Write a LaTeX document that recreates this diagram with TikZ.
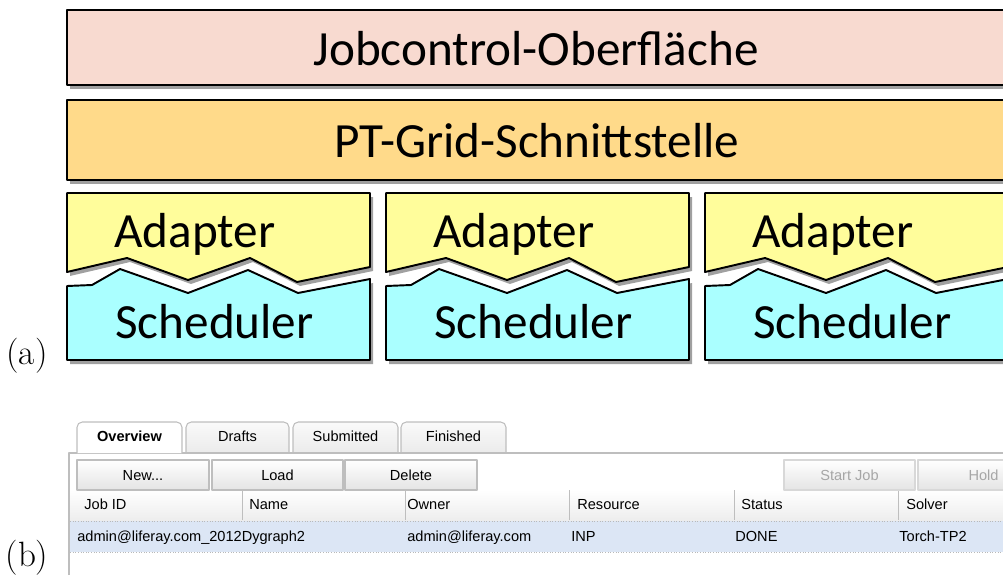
\documentclass[tikz,border=0pt]{standalone}
\usepackage{fontspec}
\newfontfamily\calfont{Carlito}
\newfontfamily\uifont{Liberation Sans}
\usepackage{xcolor}
\usepackage{tikz}
\definecolor{uipink}{RGB}{248,218,208}
\definecolor{gridorange}{RGB}{255,218,138}
\definecolor{adapteryellow}{RGB}{255,253,155}
\definecolor{schedcyan}{RGB}{170,255,255}
\definecolor{shadowgray}{RGB}{160,160,160}
\definecolor{rowblue}{RGB}{220,230,245}
\definecolor{framegray}{RGB}{190,190,190}
\definecolor{btnfill}{RGB}{228,228,228}

\begin{document}
\begin{tikzpicture}[x=0.02cm, y=-0.02cm, line join=round,
  layer/.style={draw=black, line width=1.1pt},
  biglabel/.style={font=\calfont\fontsize{28}{34}\selectfont, anchor=base, inner sep=0pt},
  partlabel/.style={font=\fontsize{20}{24}\selectfont, anchor=base, inner sep=0pt},
  uitext/.style={font=\uifont\fontsize{8.3}{10}\selectfont, anchor=base west, inner sep=0pt},
  uibutton/.style={draw=framegray, line width=0.6pt, top color=white, bottom color=btnfill},
  uitab/.style={draw=framegray, line width=0.6pt, rounded corners=3pt, top color=gray!4, bottom color=gray!16}]
\useasboundingbox (0,0) rectangle (1003,575);
\clip (0,0) rectangle (1003,575);

\fill[shadowgray] (70,14) rectangle (1010,89);
\draw[layer, fill=uipink] (67,10) rectangle (1010,85);
\node[biglabel] (jobcontrol) at (536,65) {Jobcontrol-Oberfläche};

\fill[shadowgray] (70,104) rectangle (1010,184);
\draw[layer, fill=gridorange] (67,100) rectangle (1010,180);
\node[biglabel] (ptgrid) at (537,157) {PT-Grid-Schnittstelle};

\foreach \x [count=\i] in {67,386,705} {
  \begin{scope}[shift={(\x,0)}]
    \fill[shadowgray, shift={(3,4)}] (0,286) -- (25,285) -- (53,269) -- (121,293) -- (181,270) -- (231,293) -- (303,279) -- (303,360) -- (0,360) -- cycle;
    \draw[layer, fill=schedcyan] (0,286) -- (25,285) -- (53,269) -- (121,293) -- (181,270) -- (231,293) -- (303,279) -- (303,360) -- (0,360) -- cycle;
    \fill[shadowgray, shift={(3,4)}] (0,193) -- (303,193) -- (303,267) -- (230,282) -- (183,258) -- (121,280) -- (60,258) -- (0,272) -- cycle;
    \draw[layer, fill=adapteryellow] (0,193) -- (303,193) -- (303,267) -- (230,282) -- (183,258) -- (121,280) -- (60,258) -- (0,272) -- cycle;
    \node[biglabel] (adapter\i) at (128,247) {Adapter};
    \node[biglabel] (sched\i) at (147.5,338) {Scheduler};
  \end{scope}
}

\node[partlabel] (parta) at (27,364) {(a)};
\node[partlabel] (partb) at (27,566) {(b)};

\draw[uitab] (186,453) -- (186,422) -- (289,422) -- (289,453);
\draw[uitab] (293,453) -- (293,422) -- (398,422) -- (398,453);
\draw[uitab] (401,453) -- (401,422) -- (506,422) -- (506,453);
\draw[framegray, line width=0.6pt] (69,575) -- (69,453) -- (1010,453);
\draw[uitab, top color=white, bottom color=white] (77,453) -- (77,422) -- (182,422) -- (182,453);
\node[uitext, anchor=base, font=\uifont\bfseries\fontsize{8.3}{10}\selectfont] (tabover) at (129.5,441) {Overview};
\node[uitext, anchor=base] (tabdrafts) at (237.5,441) {Drafts};
\node[uitext, anchor=base] (tabsub) at (345.5,441) {Submitted};
\node[uitext, anchor=base] (tabfin) at (453.5,441) {Finished};

\shade[top color=white, bottom color=gray!14] (70,490) rectangle (1010,520);
\foreach \c in {242,405,569,734,898}
  \draw[framegray, line width=0.5pt] (\c,490) -- (\c,520);

\draw[uibutton] (77,460) rectangle (209,490);
\draw[uibutton] (212,460) rectangle (343,490);
\draw[uibutton] (345,460) rectangle (477,490);
\draw[uibutton, draw=framegray!60] (784,460) rectangle (915,490);
\draw[uibutton, draw=framegray!60] (918,460) rectangle (1049,490);
\node[uitext, anchor=base] (btnnew) at (143,480) {New...};
\node[uitext, anchor=base] (btnload) at (277.5,480) {Load};
\node[uitext, anchor=base] (btndel) at (411,480) {Delete};
\node[uitext, anchor=base, text=gray!70] (btnstart) at (849.5,480) {Start Job};
\node[uitext, anchor=base, text=gray!70] (btnhold) at (983.5,480) {Hold};

\node[uitext] (hjobid) at (84,509) {Job ID};
\node[uitext] (hname) at (249,509) {Name};
\node[uitext] (howner) at (407,509) {Owner};
\node[uitext] (hres) at (577,509) {Resource};
\node[uitext] (hstatus) at (741,509) {Status};
\node[uitext] (hsolver) at (906,509) {Solver};

\fill[rowblue] (70,521) rectangle (1010,552);
\draw[gray!55, densely dotted, line width=0.5pt] (70,521) -- (1010,521);
\draw[gray!55, densely dotted, line width=0.5pt] (70,552) -- (1010,552);
\node[uitext] (cjob) at (77,541) {admin@liferay.com\_2012Dygraph2};
\node[uitext] (cowner) at (407,541) {admin@liferay.com};
\node[uitext] (cres) at (571,541) {INP};
\node[uitext] (cstatus) at (735,541) {DONE};
\node[uitext] (csolver) at (899,541) {Torch-TP2};
\end{tikzpicture}
\end{document}
